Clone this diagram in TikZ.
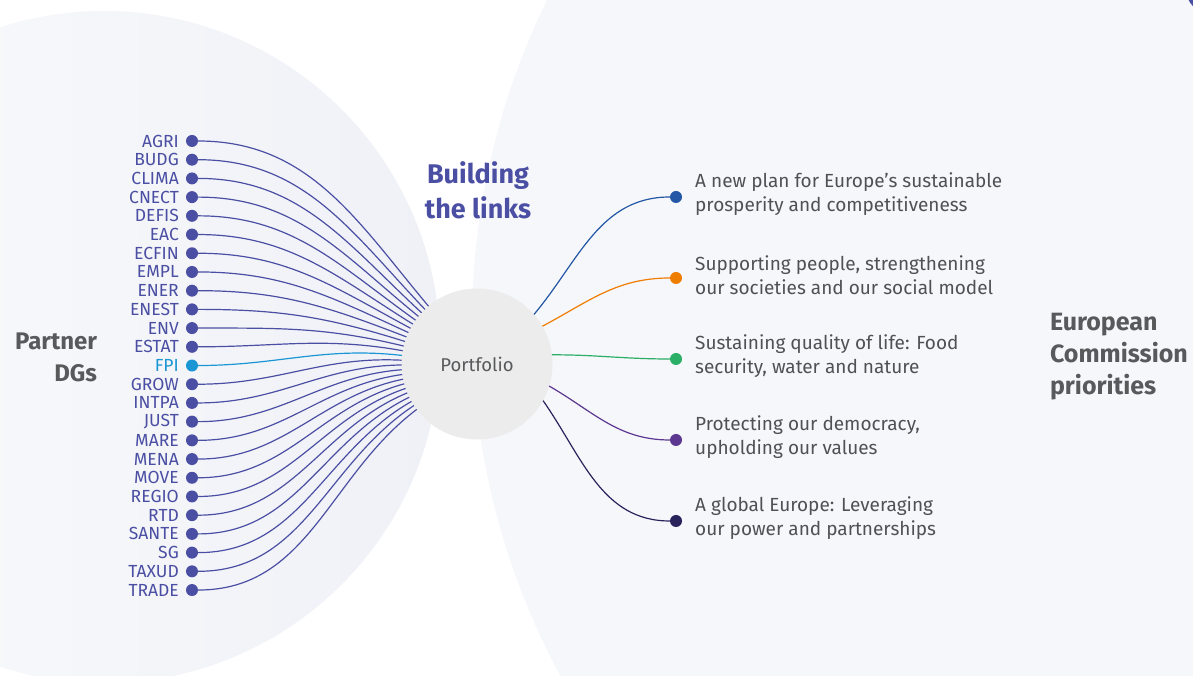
\documentclass[tikz,border=0pt]{standalone}
\usepackage{fontspec}
\setmainfont{Fira Sans}
\usetikzlibrary{positioning,calc}
\definecolor{paper}{HTML}{FFFFFF}
\definecolor{haze}{HTML}{FAFBFC}
\definecolor{hazeii}{HTML}{F0F1F7}
\definecolor{hazeiii}{HTML}{F6F7FB}
\definecolor{hub}{HTML}{ECECEC}
\definecolor{indigo}{HTML}{4B4FA3}
\definecolor{sky}{HTML}{1A96D4}
\definecolor{ink}{HTML}{58595B}
\definecolor{inkii}{HTML}{505152}
\definecolor{pblue}{HTML}{2457A5}
\definecolor{porange}{HTML}{EF7D00}
\definecolor{pgreen}{HTML}{2BAE66}
\definecolor{ppurple}{HTML}{5D3891}
\definecolor{pnavy}{HTML}{29235C}
\tikzset{
  dot/.style      = {circle, inner sep=0pt, minimum size=12pt},
  dglab/.style    = {font=\fontsize{17.5}{18}\selectfont, inner sep=0pt, outer sep=0pt},
  prlab/.style    = {font=\fontsize{19}{24}\selectfont\color{inkii}, align=left, inner sep=0pt, outer sep=0pt},
  headline/.style = {font=\fontsize{24}{32}\selectfont\bfseries, text=ink, inner sep=0pt, outer sep=0pt},
  hubnode/.style  = {circle, fill=hub, minimum size=151pt, inner sep=0pt, font=\fontsize{18.5}{20}\selectfont\color{ink}},
  link/.style     = {line width=1.2pt},
}

\begin{document}
\begin{tikzpicture}[x=1pt,y=1pt]
\useasboundingbox (0,0) rectangle (1193,676);
\clip (0,0) rectangle (1193,676);
\fill[paper] (0,0) rectangle (1193,676);

% ---- backdrop discs -----------------------------------------------------
\shade[left color=haze, right color=hazeii] (104,329) circle (336);
\fill[hazeiii] (1211,351) circle (739);
\fill[indigo] (1215,690) circle (30);

% ---- hub ----------------------------------------------------------------
\node[hubnode] (pf) at (477,312) {Portfolio};

\node[headline, font=\fontsize{27}{35}\selectfont\bfseries, text=indigo, align=center] at (478,486) {Building\\the links};
\node[headline, align=right, anchor=east] at (97,319) {Partner\\DGs};
\node[headline, font=\fontsize{25}{32}\selectfont\bfseries, align=left, anchor=west] at (1050,319) {European\\Commission\\priorities};

% ---- partner DGs fanning into the hub -----------------------------------
\foreach \dg/\col [count=\i from 0] in {AGRI/indigo, BUDG/indigo, CLIMA/indigo, CNECT/indigo,
    DEFIS/indigo, EAC/indigo, ECFIN/indigo, EMPL/indigo, ENER/indigo, ENEST/indigo, ENV/indigo,
    ESTAT/indigo, FPI/sky, GROW/indigo, INTPA/indigo, JUST/indigo, MARE/indigo, MENA/indigo,
    MOVE/indigo, REGIO/indigo, RTD/indigo, SANTE/indigo, SG/indigo, TAXUD/indigo, TRADE/indigo} {
  \node[dot, fill=\col] (dg-\i) at (192,535-18.71*\i) {};
  \node[dglab, text=\col, left=7pt of dg-\i] {\dg};
  \pgfmathsetmacro\a{130+3.625*\i}
  \draw[link, draw=\col] (dg-\i) to[out=0, in=\a] ($(pf.center)+(\a:75.5)$);
}

% ---- hub out to the priorities ------------------------------------------
\foreach \col/\a/\o/\txt [count=\i from 0] in {
    pblue/41/50/{A new plan for Europe’s sustainable\\prosperity and competitiveness},
    porange/30/28/{Supporting people, strengthening\\our societies and our social model},
    pgreen/7/0/{Sustaining quality of life: Food\\security, water and nature},
    ppurple/-17/-30/{Protecting our democracy,\\upholding our values},
    pnavy/-29/-55/{A global Europe: Leveraging\\our power and partnerships}} {
  \node[dot, fill=\col] (pr-\i) at (676,479-81*\i) {};
  \node[prlab, right=13pt of pr-\i, yshift=3pt] {\txt};
  \draw[link, draw=\col] ($(pf.center)+(\a:75.5)$) to[out=\o, in=180] (pr-\i);
}

\end{tikzpicture}
\end{document}
